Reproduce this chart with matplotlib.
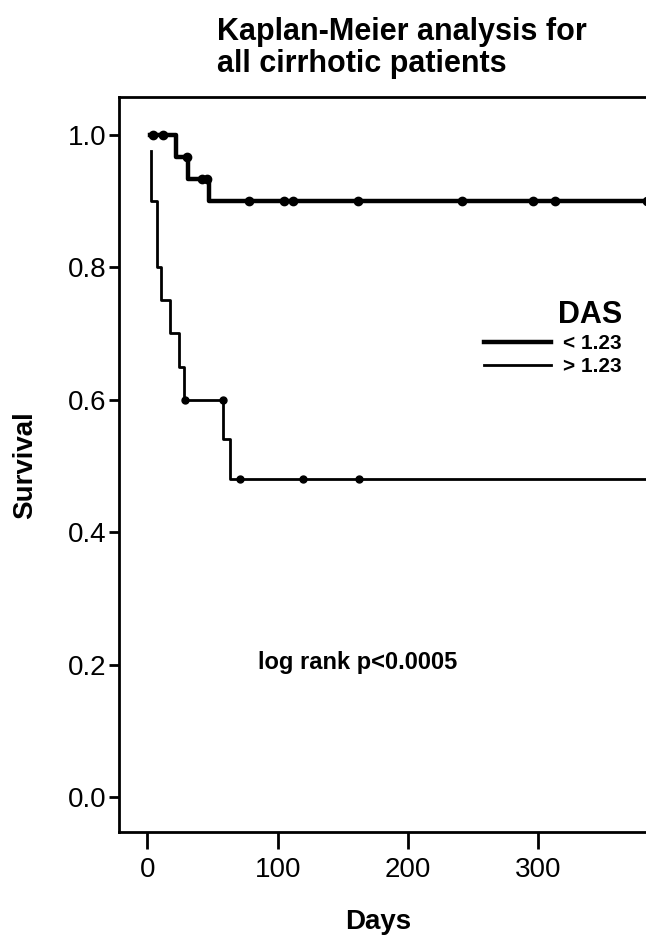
import matplotlib
matplotlib.use("Agg")
import matplotlib.pyplot as plt
from matplotlib.lines import Line2D

plt.rcParams['font.family'] = ['Liberation Sans Narrow', 'Liberation Sans', 'DejaVu Sans']

# DAS < 1.23 (thick line)
low_start_day = 2
low_start_surv = 1.0
low_event_days = [22, 31, 47]
low_event_surv = [0.967, 0.933, 0.900]
low_censor_days = [4, 12, 30, 42, 46, 78, 105, 112, 162, 242, 296, 313, 384]

# DAS > 1.23 (thin line)
high_start_day = 3
high_start_surv = 0.975
high_event_days = [3, 7.5, 10.7, 17, 24, 28.4, 58, 63.5]
high_event_surv = [0.9, 0.8, 0.75, 0.7, 0.65, 0.6, 0.54, 0.48]
high_censor_days = [29, 58, 71, 119.5, 162.5]

end_day = 400
x_ticks = [0, 100, 200, 300]
y_ticks = [0.0, 0.2, 0.4, 0.6, 0.8, 1.0]


def km_xy(start_day, start_surv, days, surv):
    xs = [start_day]
    ys = [start_surv]
    for d, s in zip(days, surv):
        xs += [d, d]
        ys += [ys[-1], s]
    xs.append(end_day)
    ys.append(ys[-1])
    return xs, ys


def km_at(start_surv, days, surv, t):
    # censored cases sit on the level before a drop on the same day
    v = start_surv
    for d, s in zip(days, surv):
        if t > d:
            v = s
    return v


fig = plt.figure(figsize=(6.46, 9.44), dpi=100)
ax = fig.add_axes([0.184, 0.1186, 0.83, 0.7786])

lx, ly = km_xy(low_start_day, low_start_surv, low_event_days, low_event_surv)
hx, hy = km_xy(high_start_day, high_start_surv, high_event_days, high_event_surv)
ax.plot(lx, ly, color='black', lw=3.2)
ax.plot(hx, hy, color='black', lw=2.0)

low_cy = [km_at(low_start_surv, low_event_days, low_event_surv, t) for t in low_censor_days]
high_cy = [km_at(high_start_surv, high_event_days, high_event_surv, t) for t in high_censor_days]
ax.plot(low_censor_days, low_cy, 'o', color='black', ms=6)
ax.plot(high_censor_days, high_cy, 'o', color='black', ms=5)

ax.set_xlim(-22, 390)
ax.set_ylim(-0.053, 1.057)
ax.set_xticks(x_ticks)
ax.set_yticks(y_ticks)
ax.set_xticklabels([str(v) for v in x_ticks])
ax.set_yticklabels([f"{v:.1f}" for v in y_ticks])
ax.tick_params(axis='both', labelsize=20, width=2, direction='out')
ax.tick_params(axis='y', length=7, pad=2)
ax.tick_params(axis='x', length=12, pad=6)
ax.spines['right'].set_visible(False)
for sp in ['left', 'bottom', 'top']:
    ax.spines[sp].set_linewidth(2)

fig.text(25 / 646, 1 - 465 / 944, "Survival", rotation=90, fontsize=20,
         fontweight='bold', family='Liberation Sans', ha='center', va='center')
fig.text(378 / 646, 1 - 922 / 944, "Days", fontsize=20,
         fontweight='bold', family='Liberation Sans', ha='center', va='center')

fig.text(217 / 646, 1 - 48 / 944, "Kaplan-Meier analysis for\nall cirrhotic patients",
         fontsize=22, fontweight='bold', family='Liberation Sans',
         ha='left', va='center', linespacing=1.1)

ax.text(0.446, 0.231, "log rank p<0.0005", transform=ax.transAxes,
        fontsize=17, fontweight='bold', family='Liberation Sans', ha='center', va='center')

handles = [Line2D([], [], color='black', lw=3.2), Line2D([], [], color='black', lw=2.0)]
leg = ax.legend(handles, ["< 1.23", "> 1.23"], title="DAS", loc='center',
                bbox_to_anchor=(0.81, 0.672), frameon=False, handlelength=3.2,
                handletextpad=0.6, labelspacing=0.2, borderpad=0,
                prop={'size': 15, 'weight': 'bold'}, alignment='right')
leg.get_title().set_fontsize(22)
leg.get_title().set_fontweight('bold')
leg.get_title().set_family('Liberation Sans')

fig.savefig("out.png", dpi=100)
